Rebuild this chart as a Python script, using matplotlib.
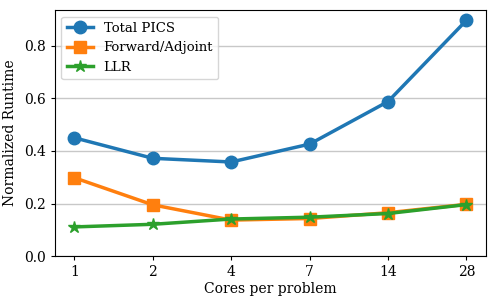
import matplotlib
matplotlib.use('Agg')
import matplotlib.pyplot as plt

plt.rcParams['font.family'] = 'DejaVu Serif'
plt.rcParams['font.size'] = 10
plt.rcParams['xtick.major.size'] = 3
plt.rcParams['ytick.major.size'] = 3

# Dados
nucleos = ['1', '2', '4', '7', '14', '28']
total_pics = [0.450, 0.372, 0.358, 0.426, 0.588, 0.897]
forward_adjoint = [0.298, 0.195, 0.137, 0.143, 0.165, 0.197]
llr = [0.111, 0.121, 0.141, 0.148, 0.162, 0.196]

x = list(range(len(nucleos)))

fig, ax = plt.subplots(figsize=(4.98, 3.02), dpi=100)

ax.plot(x, total_pics, marker='o', markersize=9, linewidth=2.5, label='Total PICS')
ax.plot(x, forward_adjoint, marker='s', markersize=9, linewidth=2.5, label='Forward/Adjoint')
ax.plot(x, llr, marker='*', markersize=9, linewidth=2.5, label='LLR')

ax.set_xticks(x)
ax.set_xticklabels(nucleos)
ax.set_ylim(bottom=0)
ax.yaxis.grid(True, color='#c8c8c8', linewidth=1)
ax.set_axisbelow(True)

ax.set_xlabel('Cores per problem', labelpad=2)
ax.set_ylabel('Normalized Runtime', labelpad=5)
ax.legend(loc='upper left', fontsize=9.5)

fig.subplots_adjust(left=0.11, right=0.976, top=0.967, bottom=0.152)
fig.savefig('out.png', dpi=100)
